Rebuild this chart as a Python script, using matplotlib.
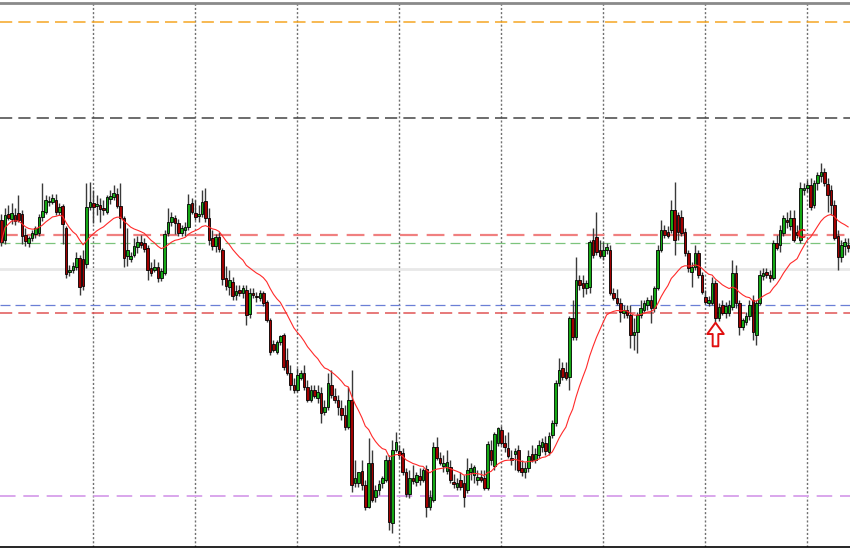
import numpy as np
import pandas as pd
import matplotlib
matplotlib.use("Agg")
import matplotlib.pyplot as plt
from matplotlib.path import Path

# OHLC prices (points), one entry per bar
opens = [1330, 1310, 1336, 1331, 1335, 1337, 1336, 1315, 1307, 1312,
         1316, 1317, 1333, 1338, 1348, 1348, 1350, 1338, 1344, 1322,
         1278, 1280, 1283, 1292, 1291, 1286, 1343, 1347, 1344, 1345,
         1342, 1338, 1351, 1353, 1356, 1344, 1332, 1294, 1291, 1295,
         1303, 1308, 1307, 1302, 1282, 1280, 1283, 1272, 1277, 1317,
         1328, 1332, 1327, 1317, 1320, 1323, 1347, 1337, 1334, 1336,
         1349, 1332, 1312, 1304, 1313, 1300, 1272, 1263, 1268, 1255,
         1260, 1257, 1260, 1236, 1257, 1254, 1252, 1257, 1248, 1230,
         1206, 1198, 1208, 1215, 1190, 1177, 1165, 1160, 1172, 1177,
         1163, 1150, 1160, 1152, 1157, 1138, 1143, 1165, 1154, 1150,
         1142, 1135, 1123, 1150, 1067, 1067, 1079, 1065, 1043, 1087,
         1053, 1060, 1067, 1070, 1090, 1027, 1100, 1099, 1097, 1078,
         1056, 1072, 1068, 1074, 1070, 1081, 1043, 1050, 1103, 1092,
         1084, 1079, 1083, 1068, 1063, 1070, 1067, 1060, 1078, 1075,
         1070, 1073, 1072, 1062, 1100, 1084, 1107, 1120, 1107, 1102,
         1092, 1096, 1100, 1082, 1078, 1082, 1096, 1090, 1095, 1103,
         1107, 1098, 1115, 1127, 1167, 1182, 1178, 1173, 1232, 1213,
         1270, 1267, 1262, 1263, 1310, 1313, 1300, 1294, 1300, 1300,
         1257, 1252, 1247, 1237, 1240, 1235, 1215, 1218, 1235, 1240,
         1245, 1250, 1242, 1262, 1300, 1320, 1318, 1320, 1340, 1335,
         1333, 1318, 1297, 1278, 1283, 1297, 1275, 1253, 1247, 1247,
         1267, 1232, 1245, 1237, 1237, 1243, 1277, 1247, 1223, 1228,
         1234, 1250, 1215, 1247, 1274, 1278, 1275, 1272, 1307, 1305,
         1317, 1330, 1324, 1332, 1318, 1310, 1360, 1362, 1365, 1345,
         1367, 1374, 1378, 1366, 1360, 1345, 1314, 1293, 1304, 1305]

highs = [1336, 1342, 1345, 1347, 1342, 1355, 1340, 1322, 1314, 1320,
         1324, 1336, 1367, 1355, 1354, 1356, 1356, 1347, 1346, 1324,
         1285, 1288, 1298, 1295, 1300, 1367, 1368, 1360, 1355, 1352,
         1350, 1355, 1360, 1365, 1362, 1367, 1334, 1322, 1298, 1312,
         1314, 1315, 1312, 1305, 1288, 1291, 1288, 1282, 1320, 1342,
         1338, 1335, 1331, 1325, 1328, 1356, 1352, 1350, 1345, 1360,
         1362, 1342, 1320, 1316, 1318, 1302, 1284, 1280, 1273, 1265,
         1265, 1265, 1265, 1262, 1262, 1258, 1260, 1259, 1250, 1232,
         1210, 1210, 1215, 1217, 1202, 1185, 1172, 1182, 1180, 1185,
         1170, 1165, 1165, 1165, 1163, 1150, 1177, 1180, 1162, 1155,
         1150, 1145, 1163, 1180, 1090, 1078, 1090, 1070, 1112, 1100,
         1065, 1070, 1074, 1095, 1095, 1110, 1118, 1105, 1102, 1082,
         1080, 1085, 1078, 1082, 1082, 1085, 1060, 1108, 1113, 1098,
         1095, 1100, 1090, 1076, 1072, 1078, 1075, 1092, 1087, 1085,
         1080, 1080, 1080, 1109, 1110, 1118, 1123, 1124, 1115, 1118,
         1100, 1102, 1105, 1090, 1088, 1100, 1105, 1102, 1110, 1112,
         1114, 1118, 1130, 1170, 1192, 1188, 1188, 1234, 1250, 1293,
         1275, 1275, 1270, 1310, 1322, 1338, 1310, 1308, 1307, 1305,
         1262, 1261, 1252, 1245, 1245, 1245, 1232, 1238, 1250, 1250,
         1253, 1255, 1264, 1305, 1330, 1325, 1324, 1350, 1368, 1338,
         1340, 1322, 1300, 1288, 1305, 1300, 1278, 1260, 1254, 1273,
         1270, 1247, 1250, 1248, 1250, 1290, 1285, 1250, 1232, 1238,
         1250, 1255, 1250, 1280, 1282, 1282, 1280, 1310, 1315, 1325,
         1335, 1338, 1340, 1340, 1325, 1368, 1367, 1370, 1372, 1370,
         1378, 1387, 1382, 1372, 1365, 1350, 1320, 1310, 1312, 1312]

lows = [1304, 1306, 1330, 1326, 1325, 1328, 1306, 1304, 1303, 1309,
        1312, 1314, 1329, 1336, 1344, 1346, 1335, 1335, 1306, 1272,
        1274, 1277, 1280, 1255, 1260, 1282, 1340, 1327, 1335, 1328,
        1335, 1336, 1346, 1350, 1342, 1322, 1283, 1284, 1288, 1293,
        1297, 1302, 1298, 1270, 1274, 1278, 1268, 1269, 1275, 1314,
        1324, 1316, 1314, 1314, 1314, 1320, 1336, 1330, 1328, 1333,
        1328, 1305, 1300, 1298, 1298, 1265, 1260, 1255, 1250, 1250,
        1254, 1252, 1225, 1232, 1252, 1248, 1249, 1244, 1228, 1195,
        1198, 1196, 1205, 1180, 1175, 1160, 1157, 1158, 1170, 1160,
        1148, 1148, 1152, 1147, 1127, 1135, 1140, 1152, 1147, 1135,
        1130, 1120, 1121, 1058, 1063, 1063, 1060, 1040, 1042, 1048,
        1048, 1055, 1062, 1068, 1020, 1017, 1098, 1092, 1075, 1053,
        1052, 1066, 1064, 1065, 1068, 1033, 1040, 1048, 1090, 1085,
        1078, 1076, 1067, 1062, 1060, 1060, 1043, 1057, 1070, 1067,
        1065, 1068, 1060, 1060, 1085, 1080, 1104, 1105, 1098, 1092,
        1085, 1080, 1078, 1074, 1072, 1078, 1088, 1087, 1092, 1098,
        1095, 1095, 1112, 1124, 1164, 1170, 1170, 1160, 1210, 1210,
        1260, 1253, 1256, 1257, 1292, 1295, 1292, 1290, 1296, 1255,
        1250, 1245, 1228, 1232, 1232, 1202, 1200, 1197, 1232, 1238,
        1240, 1227, 1238, 1260, 1298, 1312, 1312, 1317, 1295, 1310,
        1314, 1294, 1278, 1263, 1280, 1272, 1256, 1246, 1244, 1245,
        1228, 1229, 1235, 1232, 1234, 1240, 1242, 1215, 1220, 1225,
        1230, 1210, 1205, 1245, 1270, 1272, 1268, 1270, 1300, 1298,
        1314, 1322, 1320, 1308, 1312, 1307, 1355, 1358, 1340, 1342,
        1360, 1368, 1364, 1338, 1335, 1310, 1280, 1288, 1295, 1298]

closes = [1308, 1335, 1332, 1337, 1329, 1330, 1314, 1309, 1312, 1317,
          1322, 1333, 1339, 1350, 1349, 1352, 1338, 1343, 1326, 1276,
          1280, 1284, 1292, 1263, 1264, 1343, 1348, 1343, 1346, 1341,
          1340, 1353, 1354, 1357, 1344, 1332, 1292, 1300, 1294, 1304,
          1308, 1305, 1301, 1280, 1277, 1283, 1272, 1279, 1316, 1328,
          1333, 1327, 1317, 1322, 1323, 1346, 1338, 1333, 1336, 1348,
          1332, 1310, 1304, 1313, 1301, 1271, 1264, 1270, 1254, 1259,
          1257, 1262, 1235, 1257, 1255, 1253, 1257, 1247, 1230, 1198,
          1200, 1208, 1214, 1183, 1177, 1165, 1160, 1175, 1177, 1163,
          1150, 1160, 1154, 1158, 1137, 1143, 1167, 1155, 1150, 1143,
          1135, 1123, 1150, 1065, 1072, 1078, 1065, 1043, 1087, 1050,
          1060, 1066, 1072, 1090, 1028, 1100, 1108, 1095, 1078, 1056,
          1072, 1069, 1075, 1070, 1080, 1043, 1053, 1103, 1092, 1087,
          1087, 1088, 1070, 1066, 1067, 1063, 1053, 1080, 1082, 1083,
          1073, 1070, 1062, 1106, 1090, 1116, 1122, 1107, 1103, 1094,
          1090, 1099, 1080, 1078, 1082, 1094, 1090, 1096, 1105, 1108,
          1099, 1114, 1127, 1167, 1180, 1173, 1172, 1232, 1213, 1270,
          1265, 1262, 1267, 1308, 1295, 1298, 1294, 1300, 1303, 1257,
          1252, 1247, 1238, 1240, 1235, 1215, 1218, 1235, 1242, 1247,
          1250, 1242, 1262, 1300, 1320, 1315, 1314, 1340, 1310, 1318,
          1317, 1297, 1282, 1283, 1297, 1275, 1258, 1248, 1250, 1267,
          1232, 1243, 1237, 1244, 1245, 1277, 1247, 1223, 1230, 1234,
          1245, 1218, 1247, 1275, 1277, 1275, 1272, 1307, 1302, 1320,
          1332, 1328, 1332, 1310, 1315, 1362, 1362, 1365, 1343, 1367,
          1375, 1378, 1367, 1355, 1345, 1312, 1293, 1305, 1308, 1302]

# horizontal levels drawn on the chart
level_prices = [1528, 1432, 1315, 1307, 1281, 1245, 1237, 1054]
level_colors = ["#f5a623", "#444444", "#f08080", "#7cc47c", "#e8e8e8",
                "#6a7fd6", "#e05555", "#d9a6ec"]
level_widths = [1.1, 1.1, 1.6, 0.9, 2.0, 0.9, 1.1, 1.4]
level_dashed = [True, True, True, True, False, True, True, True]

ma_span = 20
buy_signal = (210, 1216)      # hollow up arrow
mark_signal = (235, 1316)     # small red mark

o = np.array(opens)
h = np.array(highs)
l = np.array(lows)
c = np.array(closes)
x = np.arange(len(c))
ma = pd.Series(c).ewm(span=ma_span).mean()

fig = plt.figure(figsize=(8.5, 5.5), dpi=100)
ax = fig.add_axes([0, 3 / 550, 1, 544 / 550])
ax.set_xlim(-0.44, len(c) - 0.44)
ax.set_ylim(1003, 1547)

# vertical dotted grid every 30 bars
for g in np.arange(26.9, len(c), 30):
    ax.axvline(g, color="#707070", lw=1, linestyle=(0, (1.5, 1.5)), zorder=1)

for p, col, w, d in zip(level_prices, level_colors, level_widths, level_dashed):
    ls = (0, (8, 4)) if d else "-"
    ax.axhline(p, color=col, lw=w, linestyle=ls, zorder=1)

# candles
ax.vlines(x, l, h, color="#3a3a3a", lw=1.0, zorder=2)
up = c >= o
body = np.maximum(np.abs(c - o), 1.5)
bottom = np.minimum(o, c)
ax.bar(x[up], body[up], bottom=bottom[up], width=0.78, color="#15a815",
       edgecolor="black", linewidth=0.6, zorder=3)
ax.bar(x[~up], body[~up], bottom=bottom[~up], width=0.78, color="#a00000",
       edgecolor="black", linewidth=0.6, zorder=3)

ax.plot(x, ma, color="#ff2a2a", lw=0.8, zorder=4)

# signal markers
arrow = Path([(0, 0.5), (0.35, 0.02), (0.12, 0.02), (0.12, -0.5),
              (-0.12, -0.5), (-0.12, 0.02), (-0.35, 0.02), (0, 0.5)],
             [Path.MOVETO] + [Path.LINETO] * 6 + [Path.CLOSEPOLY])
ax.plot([buy_signal[0]], [buy_signal[1]], marker=arrow, markersize=17,
        markerfacecolor="white", markeredgecolor="#e01010", mew=1.4, zorder=5)
ax.text(mark_signal[0], mark_signal[1], "C", color="#e01010", fontsize=9,
        fontweight="bold", ha="center", va="center", zorder=5)

ax.set_xticks([])
ax.set_yticks([])
for s in ["left", "right"]:
    ax.spines[s].set_visible(False)
ax.spines["top"].set_color("#8a8a8a")
ax.spines["top"].set_linewidth(2)
ax.spines["bottom"].set_color("black")
ax.spines["bottom"].set_linewidth(1.2)

fig.savefig("out.png", dpi=100, facecolor="white")
